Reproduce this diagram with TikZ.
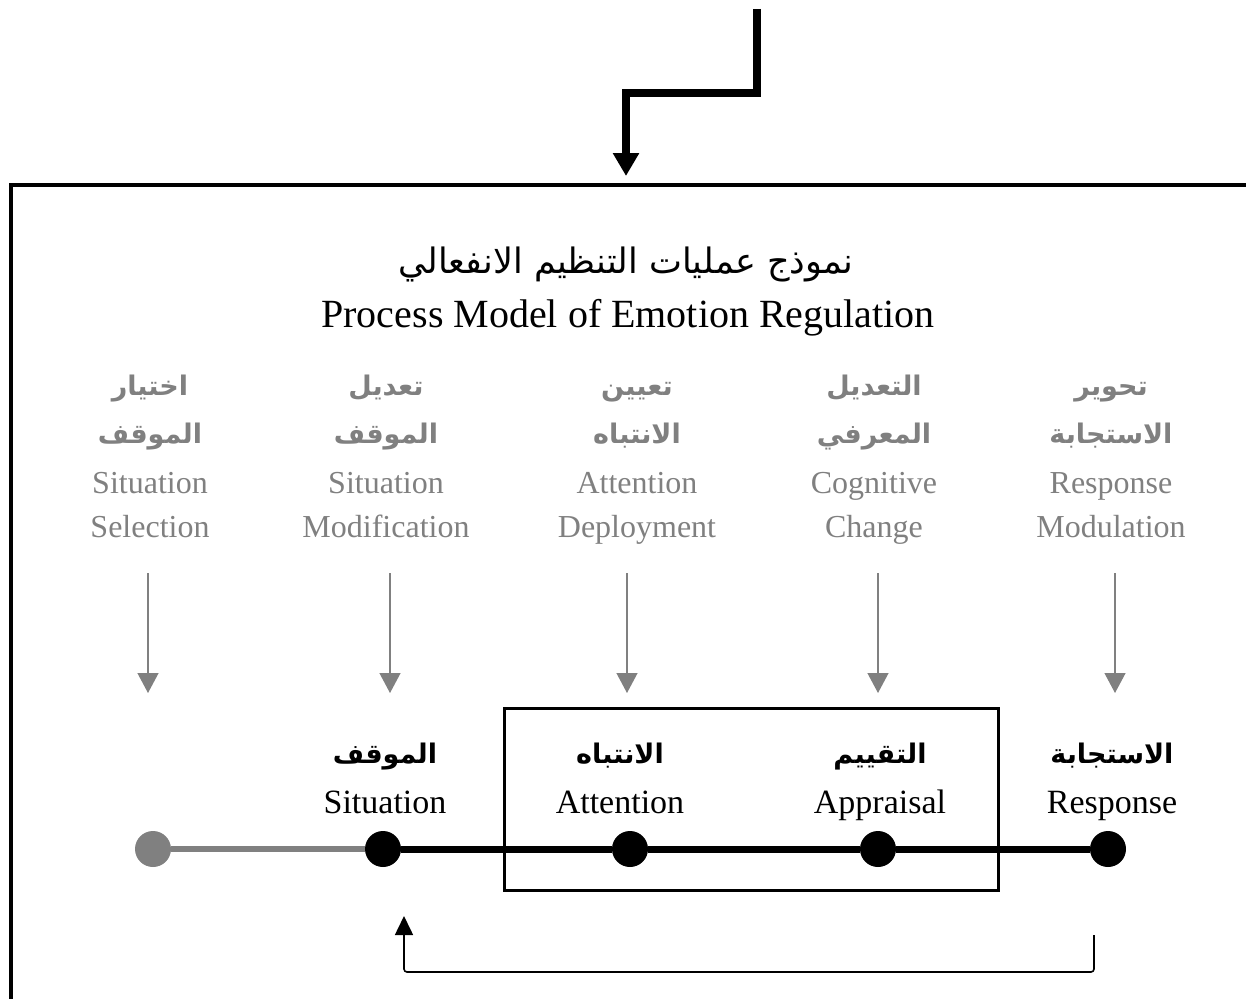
\documentclass[tikz,border=0pt]{standalone}
\usepackage{fontspec}
\setmainfont{Liberation Serif}
\newfontfamily\arabicfont[Script=Arabic]{DejaVu Sans}
\TeXXeTstate=1
\usepackage{tikz}
\usetikzlibrary{arrows.meta}
\usetikzlibrary{positioning}
\definecolor{pale}{RGB}{128,128,128}
\newcommand{\ar}[1]{{\arabicfont\beginR #1\endR}}

\begin{document}
\begin{tikzpicture}[x=1pt, y=1pt,
                title/.style={font=\fontsize{40}{44}\selectfont, anchor=base},
                titlear/.style={font=\fontsize{35}{39}\selectfont, anchor=base},
                proc/.style={font=\fontsize{32}{36}\selectfont, text=pale, anchor=base},
                procar/.style={font=\bfseries\fontsize{27}{31}\selectfont, text=pale, anchor=base},
                stage/.style={font=\fontsize{34}{38}\selectfont, anchor=base},
                stagear/.style={font=\bfseries\fontsize{27}{31}\selectfont, anchor=base},
                dot/.style={circle, fill=black, inner sep=0pt, minimum size=36pt},
                modarrow/.style={draw, pale, line width=1.3pt, -{Triangle[width=21pt,length=20pt]}},
                bigarrow/.style={draw, line width=8pt, -{Triangle[width=25pt,length=23pt]}},
                feedarrow/.style={draw, line width=1.6pt, rounded corners=3pt, -{Triangle[width=18pt,length=19pt]}}
            ]
            \useasboundingbox (0,0) rectangle (1246,-998);
            % entry arrow and frame
            \coordinate (entry) at (757,-9);
            \coordinate (into) at (626,-176);
            \path[bigarrow] (entry) -- ++(0,-84) -| (into);
            \draw[line width=3.3pt] (1250,-185) -- (11,-185) -- (11,-1002);
            % title
            \node[titlear] (titlear) at (626,-273) {\ar{نموذج عمليات التنظيم الانفعالي}};
            \node[title] (title) at (628,-327) {Process Model of Emotion Regulation};
            % strategies
            \foreach \n/\x/\ax/\arA/\arB/\enA/\enB in {%
                sel/150/148/اختيار/الموقف/Situation/Selection,
                mod/386/390/تعديل/الموقف/Situation/Modification,
                dep/637/627/تعيين/الانتباه/Attention/Deployment,
                chg/874/878/التعديل/المعرفي/Cognitive/Change,
                rsp/1111/1115/تحوير/الاستجابة/Response/Modulation}
            {
                \node[procar] (\n-ar1) at (\x,-395) {\ar{\arA}};
                \node[procar] (\n-ar2) at (\x,-443) {\ar{\arB}};
                \node[proc] (\n-en1) at (\x,-493) {\enA};
                \node[proc] (\n-en2) at (\x,-537) {\enB};
                \coordinate (\n-top) at (\ax,-573);
                \coordinate (\n-end) at (\ax,-693);
                \path[modarrow] (\n-top) -- (\n-end);
            }
            % stages
            \node[draw, line width=3pt, inner sep=0pt, minimum width=494pt, minimum height=182pt] (core) at (751,-799) {};
            \node[dot, fill=pale] (origin) at (153,-849) {};
            \node[dot] (sit) at (383,-849) {};
            \node[dot] (att) at (630,-849) {};
            \node[dot] (app) at (878,-849) {};
            \node[dot] (resp) at (1108,-849) {};
            \draw[pale, line width=6.5pt] (origin) -- (sit);
            \draw[line width=7pt] (sit) -- (att) -- (app) -- (resp);
            \node[stage] (sit-en) at (385,-813) {Situation};
            \node[stage] (att-en) at (620,-813) {Attention};
            \node[stage] (app-en) at (880,-813) {Appraisal};
            \node[stage] (resp-en) at (1112,-813) {Response};
            \node[stagear] (sit-ar) at (385,-763) {\ar{الموقف}};
            \node[stagear] (att-ar) at (620,-763) {\ar{الانتباه}};
            \node[stagear] (app-ar) at (880,-763) {\ar{التقييم}};
            \node[stagear] (resp-ar) at (1112,-763) {\ar{الاستجابة}};
            % feedback
            \coordinate (fbout) at (1094,-935);
            \coordinate (fbin) at (404,-916);
            \path[feedarrow] (fbout) -- ++(0,-37) -| (fbin);
        \end{tikzpicture}
\end{document}
